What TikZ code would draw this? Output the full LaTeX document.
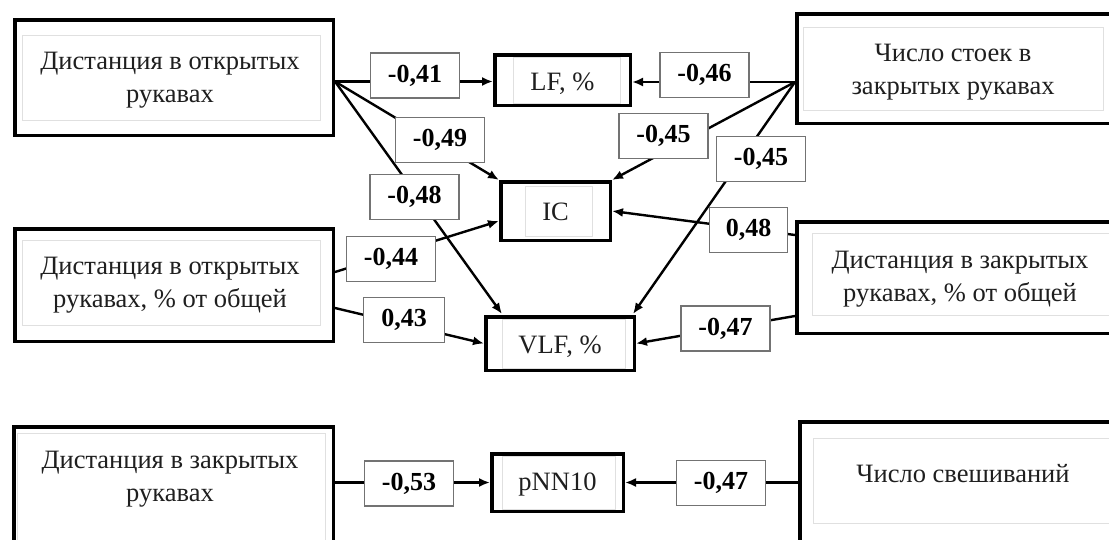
\documentclass[tikz,border=0pt]{standalone}
\usepackage{fontspec}
\setmainfont{Liberation Serif}
\usetikzlibrary{arrows.meta,calc}
\begin{document}
\begin{tikzpicture}[x=1pt,y=-1pt,
  mainbox/.style={draw=black, line width=3.5pt, fill=white, inner sep=0pt, align=center, text=black!90, font=\fontsize{26.5}{33}\selectfont},
  boxtext/.style={inner sep=0pt, align=center, text=black!88, font=\fontsize{26.5}{33}\selectfont},
  numbox/.style={draw=black!55, line width=1.4pt, fill=white, inner sep=0pt, minimum width=89pt, minimum height=45pt, font=\fontsize{26}{30}\selectfont\bfseries},
  innerframe/.style={draw=black!12, line width=1pt},
  conn/.style={line width=2.4pt, draw=black},
  arr/.style={conn, -{Latex[length=11pt,width=9pt]}}
]
\useasboundingbox (0,0) rectangle (1109,539);

% big boxes
\node[mainbox, minimum width=318.5pt, minimum height=115.5pt] (b1) at (174,77.5) {};
\draw[innerframe] (22,35) rectangle (320,120);
\node[boxtext] (t1) at (170,80) {Дистанция в открытых\\рукавах};

\node[mainbox, minimum width=316.5pt, minimum height=109.5pt] (b2) at (955,68.5) {};
\draw[innerframe] (803,27) rectangle (1103,110);
\node[boxtext] (t2) at (953,72) {Число стоек в\\закрытых рукавах};

\node[mainbox, minimum width=318.5pt, minimum height=112.5pt] (b3) at (174,285) {};
\draw[innerframe] (22,240) rectangle (320,325);
\node[boxtext] (t3) at (170,285) {Дистанция в открытых\\рукавах, \% от общей};

\node[mainbox, minimum width=326.5pt, minimum height=111.5pt] (b4) at (960,277.5) {};
\draw[innerframe] (812,233) rectangle (1120,315);
\node[boxtext] (t4) at (960,279) {Дистанция в закрытых\\рукавах, \% от общей};

\node[mainbox, minimum width=319.5pt, minimum height=126.5pt] (b5) at (173.5,490) {};
\draw[innerframe] (17,433) rectangle (325,560);
\node[boxtext] (t5) at (170,479) {Дистанция в закрытых\\рукавах};

\node[mainbox, minimum width=323.5pt, minimum height=131.5pt] (b6) at (961.5,487.5) {};
\draw[innerframe] (813,438) rectangle (1120,523);
\node[boxtext] (t6) at (963,474) {Число свешиваний};

% small target boxes
\node[mainbox, minimum width=135.5pt, minimum height=50.5pt] (LF) at (562.5,80) {};
\draw[innerframe] (513,57) rectangle (620,103);
\node[boxtext] (tLF) at (562.5,84) {LF, \%};

\node[mainbox, minimum width=109.5pt, minimum height=58.5pt] (IC) at (555.5,211) {};
\draw[innerframe] (525,186) rectangle (592,236);
\node[boxtext] (tIC) at (555.5,212) {IC};

\node[mainbox, minimum width=148.5pt, minimum height=53.5pt] (VLF) at (560,343.5) {};
\draw[innerframe] (502,319) rectangle (625,368);
\node[boxtext] (tVLF) at (560,347) {VLF, \%};

\node[mainbox, minimum width=131.5pt, minimum height=57.5pt] (pN) at (557.5,482.5) {};
\draw[innerframe] (502,456) rectangle (615,509);
\node[boxtext] (tpN) at (557.5,484) {pNN10};

% source points on box borders
\coordinate (s1) at (335,81.5);
\coordinate (s2) at (795,82);
\coordinate (s3a) at (335,272);
\coordinate (s3b) at (335,308);
\coordinate (s4a) at (795,235);
\coordinate (s4b) at (795,316);

% connectors
\draw[arr] (s1) -- (s1 -| LF.west);
\draw[arr] (s1) -- (IC.north west);
\draw[arr] (s1) -- ($(VLF.north west)+(18,-1)$);
\draw[arr] (s2) -- (s2 -| LF.east);
\draw[arr] (s2) -- (IC.north east);
\draw[arr] (s2) -- ($(VLF.north east)+(-3,-1)$);
\draw[arr] (s3a) -- ($(IC.west)+(0,10)$);
\draw[arr] (s3b) -- (VLF.west);
\draw[arr] (s4a) -- (IC.east);
\draw[arr] (s4b) -- (VLF.east);
\draw[arr] (b5.east |- pN) -- (pN.west);
\draw[arr] (b6.west |- pN) -- (pN.east);

% coefficient labels
\node[numbox] (n41) at (415,75.5) {-0,41};
\node[numbox] (n46) at (704.5,75) {-0,46};
\node[numbox] (n49) at (440,140) {-0,49};
\node[numbox] (n48a) at (414.5,197) {-0,48};
\node[numbox] (n45a) at (663.5,136) {-0,45};
\node[numbox] (n45b) at (761,159) {-0,45};
\node[numbox, minimum width=78pt] (n48b) at (748.5,230) {0,48};
\node[numbox] (n44) at (391,259) {-0,44};
\node[numbox, minimum width=81pt] (n43) at (404,320) {0,43};
\node[numbox] (n47a) at (725.5,328.5) {-0,47};
\node[numbox] (n53) at (409,483.5) {-0,53};
\node[numbox] (n47b) at (721,483) {-0,47};
\end{tikzpicture}
\end{document}
